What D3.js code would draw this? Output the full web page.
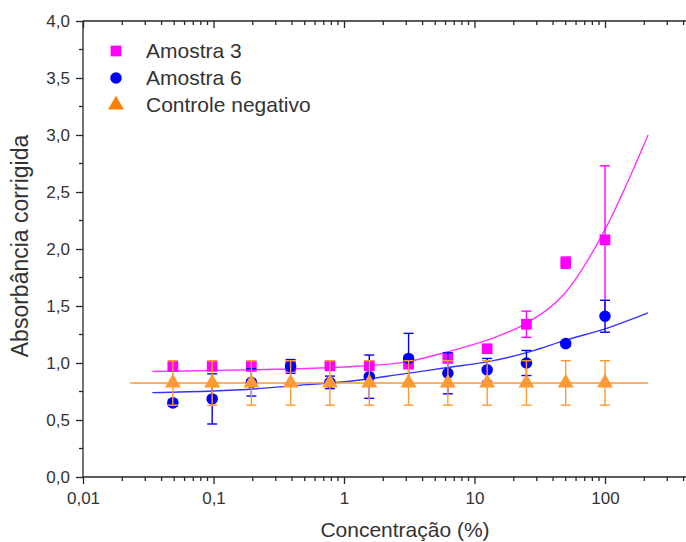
<!DOCTYPE html>
<html>
<head>
<meta charset="utf-8">
<script src="https://cdn.jsdelivr.net/npm/d3@7"></script>
<style>
  html, body { margin: 0; padding: 0; background: #fff; }
  svg { display: block; font-family: Arial, "Liberation Sans", sans-serif; }
  .tick-label { font-size: 17px; fill: #333; }
  .axis-title { font-size: 21px; fill: #333; }
  .y-title { font-size: 23px; }
  .legend-text { font-size: 21px; fill: #333; }
</style>
</head>
<body>
<svg width="686" height="542"></svg>
<script>

	// concentrations (%) of the dilution series
	var concentrations = [0.0488, 0.0977, 0.195, 0.39, 0.78, 1.5625, 3.125, 6.25, 12.5, 25, 50, 100];

	// Amostra 3 (magenta squares)
	var amostra3_values = [0.97, 0.97, 0.97, 0.97, 0.975, 0.975, 0.99, 1.04, 1.125, 1.34, 1.88, 2.08];
	var amostra3_errors = [0.02, 0.02, 0.02, 0.04, 0.02, 0.02, 0.02, 0.02, 0.02, 0.115, 0.05, 0.65];

	// Amostra 6 (blue circles)
	var amostra6_values = [0.65, 0.685, 0.83, 0.97, 0.83, 0.88, 1.04, 0.91, 0.94, 1.0, 1.17, 1.41];
	var amostra6_errors = [0.03, 0.22, 0.12, 0.06, 0.055, 0.19, 0.22, 0.18, 0.1, 0.11, 0.02, 0.14];

	// Controle negativo (orange triangles)
	var controle_values = [0.825, 0.825, 0.825, 0.825, 0.825, 0.825, 0.825, 0.825, 0.825, 0.825, 0.825, 0.825];
	var controle_errors = [0.195, 0.195, 0.195, 0.195, 0.195, 0.195, 0.195, 0.195, 0.195, 0.195, 0.195, 0.195];

	// fitted curves, points
	var amostra3_fit_x = [0.034, 0.1, 0.3, 1, 3, 6.25, 12.5, 25, 50, 100, 214];
	var amostra3_fit_y = [0.925, 0.935, 0.945, 0.965, 1.01, 1.1, 1.2, 1.35, 1.62, 2.17, 3.0];
	var amostra6_fit_x = [0.034, 0.099, 0.19, 0.52, 1, 2.7, 6.2, 12.5, 26.8, 50, 100, 214];
	var amostra6_fit_y = [0.74, 0.755, 0.77, 0.81, 0.835, 0.9, 0.96, 1.01, 1.1, 1.2, 1.3, 1.44];
	var controle_fit_x = [0.023, 214];
	var controle_fit_y = [0.825, 0.825];

	// axes
	var x_ticks = [0.01, 0.1, 1, 10, 100];
	var x_tick_labels = ["0,01", "0,1", "1", "10", "100"];
	var y_ticks = [0, 0.5, 1, 1.5, 2, 2.5, 3, 3.5, 4];
	var y_tick_labels = ["0,0", "0,5", "1,0", "1,5", "2,0", "2,5", "3,0", "3,5", "4,0"];

	var series_names = ["Amostra 3", "Amostra 6", "Controle negativo"];
	var series_colors = ["#ff00ff", "#0000ff", "#ff8000"];
	var fit_colors = ["#ff33ff", "#3333ff", "#ff9933"];

	var chart = (function(){

		var svg = d3.select("svg");
		var left = 83, top = 21, bottom = 477, decade = 130.5;

		var x = d3.scaleLog().domain([0.01, 1000]).range([left, left + decade * 5]);
		var y = d3.scaleLinear().domain([0, 4]).range([bottom, top]);

		function minor_x(){
			var list = [];
			for (var e = -2; e < 3; e++) {
				for (var m = 2; m < 10; m++) list.push(m * Math.pow(10, e));
			}
			return list;
		}

		function draw_axes(){
			var g = svg.append("g").attr("class", "axes");
			var axis_color = "#262626";

			// bottom axis, ticks hang below the line
			var bottom_axis = d3.axisBottom(x).tickValues(x_ticks).tickSize(7)
				.tickFormat(function(d, i){ return x_tick_labels[i]; }).tickPadding(8);
			var gb = g.append("g").attr("transform", "translate(0," + bottom + ")").call(bottom_axis);
			gb.append("g").selectAll("line").data(minor_x()).enter().append("line")
				.attr("x1", function(d){ return x(d); }).attr("x2", function(d){ return x(d); })
				.attr("y1", 0).attr("y2", 4);

			// top axis, ticks point into the plot, no labels
			var top_axis = d3.axisTop(x).tickValues(x_ticks).tickSize(-7).tickFormat("");
			var gt = g.append("g").attr("transform", "translate(0," + top + ")").call(top_axis);
			gt.append("g").selectAll("line").data(minor_x()).enter().append("line")
				.attr("x1", function(d){ return x(d); }).attr("x2", function(d){ return x(d); })
				.attr("y1", 0).attr("y2", 4);

			// left axis
			var left_axis = d3.axisLeft(y).tickValues(y_ticks).tickSize(7)
				.tickFormat(function(d, i){ return y_tick_labels[i]; }).tickPadding(6);
			var gl = g.append("g").attr("transform", "translate(" + left + ",0)").call(left_axis);
			gl.append("g").selectAll("line").data(d3.range(0.25, 4, 0.5)).enter().append("line")
				.attr("x1", 0).attr("x2", -4)
				.attr("y1", function(d){ return y(d); }).attr("y2", function(d){ return y(d); });

			g.selectAll(".domain").attr("stroke", axis_color).attr("stroke-width", 1.3);
			g.selectAll("line").attr("stroke", axis_color).attr("stroke-width", 1.3);
			g.selectAll(".tick text").attr("class", "tick-label").attr("fill", null);

			// plain lines without the end ticks d3 adds
			gb.select(".domain").attr("d", "M" + left + ",0H" + (left + decade * 5));
			gt.select(".domain").attr("d", "M" + left + ",0H" + (left + decade * 5));
			gl.select(".domain").attr("d", "M0," + bottom + "V" + top);

			svg.append("text").attr("class", "axis-title")
				.attr("x", 405).attr("y", 537).attr("text-anchor", "middle")
				.text("Concentração (%)");
			svg.append("text").attr("class", "axis-title y-title")
				.attr("transform", "translate(28,246) rotate(-90)").attr("text-anchor", "middle")
				.text("Absorbância corrigida");
		}

		function draw_fit(xs, ys, color){
			var pts = xs.map(function(v, i){ return [v, ys[i]]; });
			var line = d3.line()
				.x(function(d){ return x(d[0]); })
				.y(function(d){ return y(d[1]); })
				.curve(d3.curveMonotoneX);
			svg.append("path").datum(pts)
				.attr("fill", "none").attr("stroke", color).attr("stroke-width", 1.4)
				.attr("d", line);
		}

		function draw_series(values, errors, color, symbol, size){
			var pts = concentrations.map(function(c, i){ return {c: c, v: values[i], e: errors[i]}; });
			var g = svg.append("g");
			var bars = g.selectAll("g.err").data(pts).enter().append("g").attr("class", "err")
				.attr("stroke", color).attr("stroke-width", 1.4);
			bars.append("line")
				.attr("x1", function(d){ return x(d.c); }).attr("x2", function(d){ return x(d.c); })
				.attr("y1", function(d){ return y(d.v - d.e); }).attr("y2", function(d){ return y(d.v + d.e); });
			[-1, 1].forEach(function(s){
				bars.append("line")
					.attr("x1", function(d){ return x(d.c) - 5; }).attr("x2", function(d){ return x(d.c) + 5; })
					.attr("y1", function(d){ return y(d.v + s * d.e); }).attr("y2", function(d){ return y(d.v + s * d.e); });
			});
			g.selectAll("path.mark").data(pts).enter().append("path").attr("class", "mark")
				.attr("d", d3.symbol().type(symbol).size(size))
				.attr("fill", color)
				.attr("transform", function(d){ return "translate(" + x(d.c) + "," + y(d.v) + ")"; });
		}

		function draw_legend(){
			var symbols = [d3.symbolSquare, d3.symbolCircle, d3.symbolTriangle];
			var sizes = [115, 105, 110];
			var g = svg.append("g");
			series_names.forEach(function(name, i){
				var cy = 51 + i * 27;
				g.append("path").attr("d", d3.symbol().type(symbols[i]).size(sizes[i])())
					.attr("fill", series_colors[i])
					.attr("transform", "translate(116," + cy + ")");
				g.append("text").attr("class", "legend-text")
					.attr("x", 146).attr("y", cy + 7).text(name);
			});
		}

		function init(){
			draw_axes();
			draw_fit(amostra3_fit_x, amostra3_fit_y, fit_colors[0]);
			draw_fit(amostra6_fit_x, amostra6_fit_y, fit_colors[1]);
			draw_fit(controle_fit_x, controle_fit_y, fit_colors[2]);
			draw_series(amostra3_values, amostra3_errors, series_colors[0], d3.symbolSquare, 115);
			draw_series(amostra6_values, amostra6_errors, series_colors[1], d3.symbolCircle, 105);
			draw_series(controle_values, controle_errors, fit_colors[2], d3.symbolTriangle, 110);
			draw_legend();
		}

		init();
		return null;
	})();

</script>
</body>
</html>
